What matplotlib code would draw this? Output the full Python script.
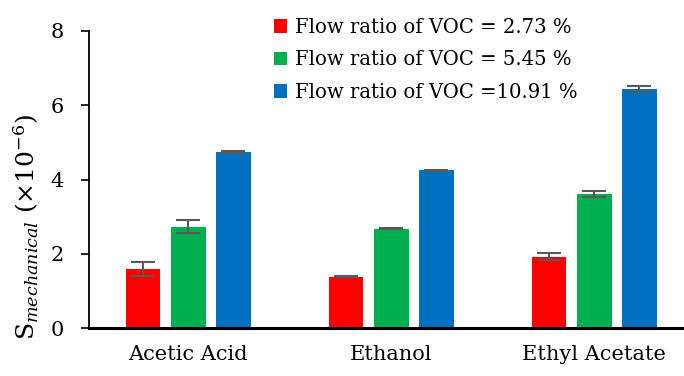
import matplotlib.pyplot as plt
import numpy as np

plt.rcParams['font.family'] = 'DejaVu Serif'
plt.rcParams['mathtext.fontset'] = 'dejavuserif'

# S_mechanical (x1e-6) for each VOC at three flow ratios
compounds = ['Acetic Acid', 'Ethanol', 'Ethyl Acetate']
series_labels = ['Flow ratio of VOC = 2.73 %',
                 'Flow ratio of VOC = 5.45 %',
                 'Flow ratio of VOC =10.91 %']
ratio_273 = [1.59, 1.38, 1.92]
ratio_545 = [2.73, 2.68, 3.60]
ratio_1091 = [4.75, 4.25, 6.45]
err_273 = [0.20, 0.01, 0.10]
err_545 = [0.18, 0.01, 0.08]
err_1091 = [0.03, 0.01, 0.08]

values = [ratio_273, ratio_545, ratio_1091]
errors = [err_273, err_545, err_1091]
colors = ['#FF0000', '#00B050', '#0070C0']

fig = plt.figure(figsize=(6.84, 3.76), dpi=100)
ax = fig.add_axes([89 / 684, 1 - 328 / 376, 1 - 89 / 684, 297 / 376])

x = np.arange(len(compounds))
width = 0.172
step = 0.222
for i, (vals, errs, c, lab) in enumerate(zip(values, errors, colors, series_labels)):
    ax.bar(x + (i - 1) * step, vals, width, color=c, label=lab,
           yerr=errs, capsize=8.5,
           error_kw=dict(ecolor='#595959', elinewidth=1.5, capthick=1.5))

ax.set_xlim(-0.488, 2.443)
ax.set_ylim(0, 8)
ax.set_yticks([0, 2, 4, 6, 8])
ax.set_xticks(x)
ax.set_xticklabels(compounds)
ax.tick_params(axis='x', length=0, pad=12, labelsize=15)
ax.tick_params(axis='y', direction='out', length=6, width=1.2, pad=12, labelsize=15)

for s in ['top', 'right']:
    ax.spines[s].set_visible(False)
ax.spines['left'].set_linewidth(1.3)
ax.spines['bottom'].set_linewidth(2.2)

ax.set_ylabel(r'$\mathrm{S}_{\mathit{mechanical}}$ (×10$^{-6}$)', fontsize=18)
ax.yaxis.set_label_coords(-0.080, 0.34)

ax.legend(loc='upper left', bbox_to_anchor=(0.297, 1.07), frameon=False,
          fontsize=14.1, handlelength=0.7, handleheight=0.7, handletextpad=0.42,
          labelspacing=0.68, borderaxespad=0)

fig.savefig('out.png', dpi=100)
